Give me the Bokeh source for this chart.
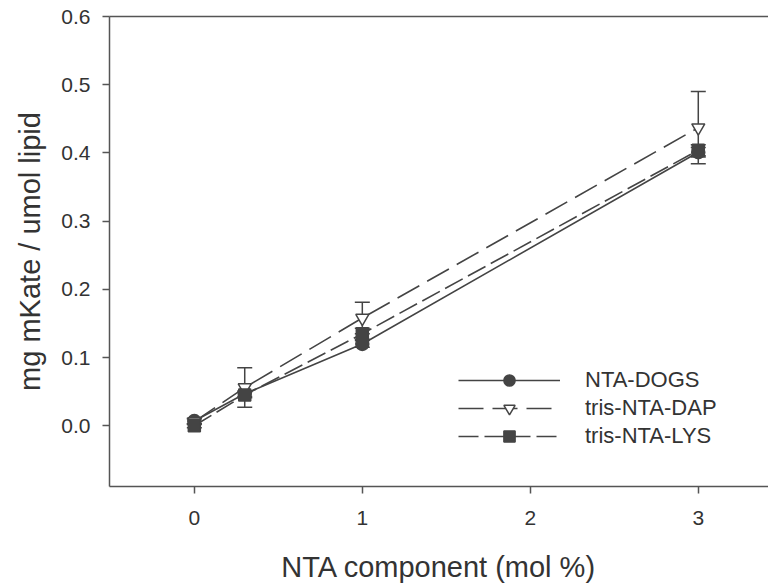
from bokeh.plotting import figure
from bokeh.models import (ColumnDataSource, Whisker, TeeHead, LinearAxis, FixedTicker,
                          PrintfTickFormatter, Legend, LegendItem, Range1d)
from bokeh.embed import file_html
from bokeh.resources import INLINE

# ---- data ----
x_vals = [0, 0.3, 1, 3]
dogs = [0.007, 0.047, 0.120, 0.401]
dogs_err = [0.004, 0.004, 0.005, 0.007]
dap = [0.006, 0.056, 0.158, 0.437]
dap_err = [0.004, 0.029, 0.023, 0.053]
lys = [0.000, 0.045, 0.135, 0.404]
lys_err = [0.003, 0.004, 0.008, 0.008]

series_names = ["NTA-DOGS", "tris-NTA-DAP", "tris-NTA-LYS"]
x_ticks = [0, 1, 2, 3]
y_ticks = [0.0, 0.1, 0.2, 0.3, 0.4, 0.5, 0.6]

FONT = "Liberation Sans"
TXT = "#333333"
AX = "#555555"
LN = "#444444"

p = figure(width=768, height=585, output_backend="svg", toolbar_location=None,
           x_range=Range1d(-0.505, 3.418), y_range=Range1d(-0.089, 0.6),
           min_border_left=109, min_border_right=0, min_border_top=16, min_border_bottom=99)
p.outline_line_color = None
p.grid.visible = False
p.background_fill_color = "white"
p.border_fill_color = "white"

for ax in (p.xaxis[0], p.yaxis[0]):
    ax.axis_line_color = AX
    ax.axis_line_width = 1.5
    ax.major_tick_line_color = AX
    ax.major_tick_line_width = 1.5
    ax.major_tick_in = 0
    ax.major_tick_out = 7
    ax.minor_tick_line_color = None
    ax.major_label_text_font = FONT
    ax.major_label_text_font_size = "21px"
    ax.major_label_text_color = TXT
    ax.axis_label_text_font = FONT
    ax.axis_label_text_font_style = "normal"
    ax.axis_label_text_color = TXT
    ax.axis_label_text_font_size = "29px"

p.xaxis[0].ticker = FixedTicker(ticks=x_ticks)
p.xaxis[0].axis_label = "NTA component (mol %)"
p.xaxis[0].major_label_standoff = 17
p.xaxis[0].axis_label_standoff = 23

p.yaxis[0].ticker = FixedTicker(ticks=y_ticks)
p.yaxis[0].formatter = PrintfTickFormatter(format="%.1f")
p.yaxis[0].axis_label = "mg mKate / umol lipid"
p.yaxis[0].major_label_standoff = 12
p.yaxis[0].axis_label_standoff = 12

top = LinearAxis(ticker=FixedTicker(ticks=[]), major_label_text_font_size="0px",
                 axis_line_color=AX, axis_line_width=1.5, major_tick_out=0,
                 major_tick_in=0, minor_tick_out=0, minor_tick_in=0, major_label_standoff=0)
p.add_layout(top, "above")

vals = [dogs, dap, lys]
errs = [dogs_err, dap_err, lys_err]
dashes = ["solid", "25 9", "20 6"]
markers = ["circle", "inverted_triangle", "square"]
fills = [LN, "white", LN]
msizes = [13, 13, 12]

items = []
line_rs = []
for v, e, d, m, f, s in zip(vals, errs, dashes, markers, fills, msizes):
    src = ColumnDataSource(dict(x=x_vals, y=v,
                                upper=[a + b for a, b in zip(v, e)],
                                lower=[a - b for a, b in zip(v, e)]))
    lr = p.line("x", "y", source=src, line_color=LN, line_width=1.6, line_dash=d)
    line_rs.append((lr, src, m, f, s))

for lr, src, m, f, s in line_rs:
    w = Whisker(base="x", upper="upper", lower="lower", source=src,
                line_color=LN, line_width=1.5,
                upper_head=TeeHead(size=15, line_color=LN, line_width=1.5),
                lower_head=TeeHead(size=15, line_color=LN, line_width=1.5))
    p.add_layout(w)

for name, (lr, src, m, f, s) in zip(series_names, line_rs):
    mr = p.scatter("x", "y", source=src, marker=m, size=s, fill_color=f,
                   line_color=LN, line_width=1.5)
    items.append(LegendItem(label=name, renderers=[lr, mr]))

legend = Legend(items=items, location=(349, 36), glyph_width=102, glyph_height=28,
                label_standoff=25, spacing=0, padding=0, margin=0,
                border_line_color=None, background_fill_alpha=0,
                label_text_font=FONT, label_text_font_size="22px",
                label_text_color=TXT, label_height=20)
p.add_layout(legend, "center")

open("out.html", "w").write(file_html(p, INLINE))
